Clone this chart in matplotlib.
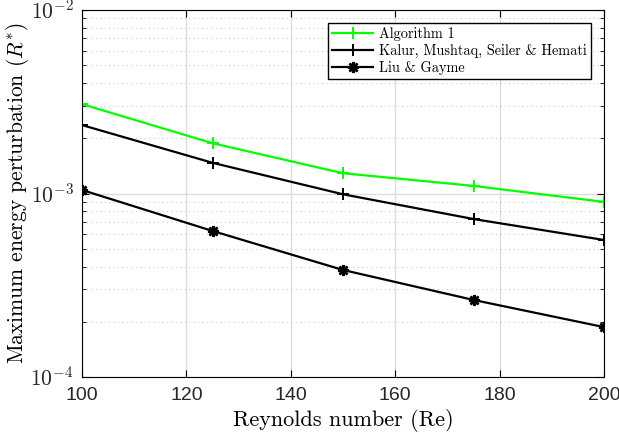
import matplotlib.pyplot as plt
from matplotlib.ticker import LogLocator, NullFormatter

plt.rcParams["mathtext.fontset"] = "cm"
plt.rcParams["font.family"] = ["Liberation Sans", "DejaVu Sans"]
plt.rcParams["axes.unicode_minus"] = False

reynolds = [100, 125, 150, 175, 200]
algoritmo1 = [3.07e-3, 1.88e-3, 1.29e-3, 1.10e-3, 0.90e-3]
kalur = [2.36e-3, 1.47e-3, 0.99e-3, 7.26e-4, 5.58e-4]
liu_gayme = [1.045e-3, 6.25e-4, 3.83e-4, 2.63e-4, 1.87e-4]

rotulos = ["Algorithm 1", "Kalur, Mushtaq, Seiler & Hemati", "Liu & Gayme"]

fig = plt.figure(figsize=(6.19, 4.45), dpi=100)
ax = fig.add_axes([82 / 619, 1 - 377 / 445, 522 / 619, 367 / 445])

ax.plot(reynolds, algoritmo1, color="#00ff00", marker="+", markersize=9, markeredgewidth=1.4,
        linewidth=1.6, label=rotulos[0])
ax.plot(reynolds, kalur, color="black", marker="+", markersize=9, markeredgewidth=1.4,
        linewidth=1.6, label=rotulos[1])
ax.plot(reynolds, liu_gayme, color="black", marker=(8, 2, 0), markersize=8, markeredgewidth=1.8,
        linewidth=1.6, label=rotulos[2])

ax.set_yscale("log")
ax.set_xlim(100, 200)
ax.set_ylim(1e-4, 1e-2)
ax.set_xticks([100, 120, 140, 160, 180, 200])
ax.set_yticks([1e-4, 1e-3, 1e-2])
ax.set_yticklabels([r"$\mathsf{10^{-4}}$", r"$\mathsf{10^{-3}}$", r"$\mathsf{10^{-2}}$"])
ax.yaxis.set_minor_locator(LogLocator(base=10, subs=range(2, 10)))
ax.yaxis.set_minor_formatter(NullFormatter())

ax.tick_params(which="both", direction="in", top=True, right=True, labelcolor="#262626")
ax.tick_params(axis="x", labelsize=14, pad=7)
ax.tick_params(axis="y", labelsize=15.5, pad=6)
ax.tick_params(which="minor", length=3)
ax.tick_params(which="major", length=5)

ax.grid(True, which="major", color="#dddddd", linewidth=1)
ax.grid(True, which="minor", axis="y", color="#cccccc", linestyle=(0, (1, 3)), linewidth=0.8)
ax.set_axisbelow(True)

ax.set_xlabel("Reynolds number (Re)", fontsize=16, fontfamily="cmr10", labelpad=4)
ax.set_ylabel(r"Maximum energy perturbation ($R^{*}$)", fontsize=15.5, fontfamily="cmr10")
ax.yaxis.set_label_coords(-0.098, 0.5)

leg = ax.legend(loc="upper right", fancybox=False, framealpha=1,
                edgecolor="black", borderaxespad=0.9, handlelength=2.85,
                labelspacing=0.2, borderpad=0.3, handletextpad=0.4,
                prop={"family": "cmr10", "size": 10.3})
leg.get_frame().set_linewidth(1)

plt.savefig("out.png", dpi=100)
